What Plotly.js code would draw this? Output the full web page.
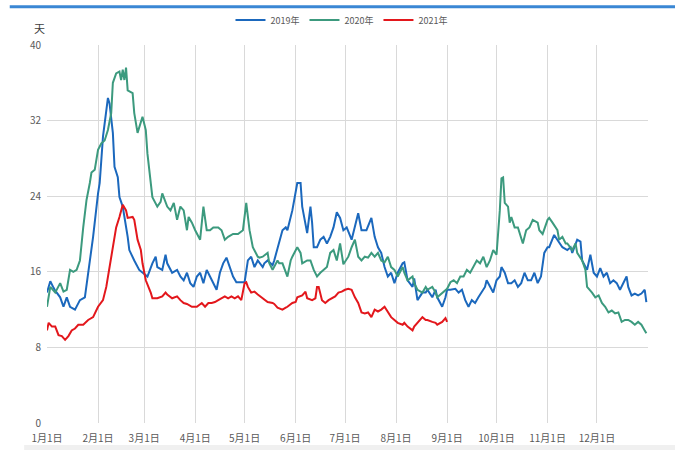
<!DOCTYPE html>
<html>
<head>
<meta charset="utf-8">
<script src="https://cdn.plot.ly/plotly-3.0.1.min.js"></script>
<style>
html,body{margin:0;padding:0;background:#fff;}
#chart{width:675px;height:450px;}
</style>
</head>
<body>
<div id="chart"></div>
<script>
// Day-of-year (0 = 1月1日) and values (天)
const days2019 = [0,2,4,5,8,10,12,14,17,20,23,26,28,31,32,34,37,38,40,41,43,44,46,49,50,53,56,61,64,66,67,70,72,73,76,79,81,83,85,87,89,91,93,95,97,99,101,103,105,107,109,111,113,115,117,120,122,124,126,128,131,132,134,137,138,140,143,145,146,149,151,152,154,155,158,160,161,162,164,166,168,170,172,174,176,178,180,182,185,187,189,191,194,197,199,201,203,205,207,209,211,213,216,217,219,222,223,225,228,230,231,234,236,237,240,242,243,245,248,250,252,254,256,258,260,262,264,266,267,269,271,273,275,276,278,280,282,284,286,288,290,292,294,296,298,300,302,304,305,308,310,313,316,318,319,322,324,325,328,330,332,334,336,338,340,342,344,346,348,350,352,353,355,357,359,361,363,364];
const vals2019 = [13.8,15.0,14.3,14.0,13.3,12.3,13.3,12.3,12.0,13.0,13.3,16.9,19.7,24.3,25.4,30.3,34.4,33.8,30.7,27.1,26.0,23.9,22.9,19.7,18.3,17.2,16.2,15.5,16.9,17.6,16.5,16.2,17.8,16.9,15.9,16.2,15.5,15.1,15.9,14.8,14.4,15.5,15.9,14.8,16.2,15.5,14.8,14.1,15.9,16.9,17.5,16.5,15.5,14.9,14.9,14.9,17.2,17.6,16.5,17.2,16.5,16.9,17.2,16.7,17.2,18.6,20.4,20.7,20.4,22.5,24.3,25.4,25.4,22.9,20.1,22.9,21.2,18.6,18.6,19.4,19.7,19.0,19.7,20.7,22.3,21.7,20.4,20.7,19.4,20.7,22.2,20.4,20.4,21.7,19.7,18.6,18.0,16.5,15.5,15.9,14.8,15.9,16.9,17.0,15.1,14.4,15.3,13.0,13.8,13.8,14.1,13.3,14.1,13.3,12.3,13.3,14.1,14.1,14.2,13.8,14.1,13.0,12.3,13.0,12.7,13.3,13.8,14.4,15.1,14.4,13.8,15.1,15.5,16.5,15.9,14.8,14.8,15.1,14.4,14.8,15.9,15.1,15.1,15.9,14.8,15.5,18.0,18.6,18.6,19.9,19.4,18.6,18.3,18.6,18.0,19.4,19.2,17.2,16.2,17.8,15.9,15.5,16.4,15.5,15.9,14.8,15.1,14.8,14.1,14.8,15.5,14.4,13.5,13.7,13.5,13.7,14.1,12.8];

const days2020 = [0,2,5,8,10,12,14,16,18,20,22,24,26,27,29,31,33,35,37,39,40,42,44,45,46,47,48,49,52,53,55,58,60,61,64,67,69,70,73,75,77,79,81,83,85,86,88,90,93,95,97,99,101,104,106,108,110,113,116,119,121,123,125,128,129,131,134,135,137,140,141,143,146,148,149,152,154,155,158,160,162,164,166,168,170,172,174,176,178,180,183,185,187,189,191,193,195,197,199,201,203,205,207,209,211,213,216,217,219,222,223,225,228,230,231,234,236,237,240,242,243,245,247,249,251,253,255,257,259,261,263,265,267,269,271,273,275,276,277,278,280,281,282,284,286,288,289,291,293,295,298,299,301,304,305,307,310,311,313,315,316,319,321,322,325,327,328,331,333,335,337,339,341,343,345,347,349,351,353,355,357,359,361,363,364];
const vals2020 = [12.3,14.4,13.8,14.8,13.9,14.1,16.2,16.0,16.2,17.2,20.7,23.6,25.4,26.5,26.8,28.9,29.6,29.9,31.0,32.8,36.0,37.0,37.2,36.3,37.4,36.3,37.6,35.2,34.9,32.8,30.7,32.4,31.0,28.5,23.9,22.9,23.4,24.3,22.9,22.5,23.3,21.5,22.9,22.5,20.4,21.8,21.2,20.4,19.4,22.9,20.4,20.4,20.7,20.7,20.4,19.4,19.7,20.0,20.0,20.4,23.3,20.4,18.6,17.6,17.5,17.6,18.0,16.9,16.2,17.2,16.9,16.9,15.5,17.2,17.6,18.6,18.0,16.9,17.2,17.2,16.2,15.5,15.9,16.2,16.5,18.0,18.3,17.2,19.0,16.8,17.6,18.6,19.4,17.6,17.2,17.6,17.5,18.0,17.6,18.0,17.2,17.0,17.6,16.5,16.2,15.5,16.5,15.9,15.1,15.5,14.8,14.1,13.8,14.4,14.1,14.4,13.8,13.3,13.8,14.1,14.2,14.9,15.1,14.8,15.5,15.5,16.2,15.9,16.5,17.2,16.9,17.6,16.5,17.2,18.3,17.8,22.5,25.9,26.0,23.3,22.9,21.2,21.8,20.7,20.7,19.7,19.0,20.4,20.7,21.5,21.2,20.4,20.0,21.5,21.7,21.2,20.4,19.4,19.7,19.0,19.0,18.3,19.0,18.0,17.2,16.2,14.4,13.8,13.3,13.5,12.7,12.3,11.7,11.9,11.6,11.7,10.7,10.9,10.9,10.7,10.4,10.7,10.4,9.8,9.5];

const days2021 = [0,1,3,5,7,9,11,13,15,17,19,22,25,28,31,34,36,38,40,42,44,46,48,49,52,53,55,57,58,60,63,64,67,70,72,73,76,79,81,83,85,88,91,94,96,98,100,102,104,106,108,110,112,114,116,118,120,121,122,124,126,128,131,132,134,137,138,140,143,145,146,149,151,152,155,157,158,161,163,164,165,167,169,171,173,175,177,179,181,183,185,187,189,191,193,195,197,199,201,203,205,207,209,211,213,216,217,219,222,223,225,228,230,231,234,236,237,240,242,243];
const vals2021 = [9.8,10.6,10.2,10.2,9.3,9.2,8.8,9.2,9.8,10.0,10.4,10.4,10.9,11.2,12.3,13.0,14.4,16.5,19.0,20.7,21.8,23.1,22.5,21.7,21.8,21.5,19.4,18.3,16.9,15.1,13.8,13.2,13.2,13.4,13.8,13.6,13.2,13.4,13.0,12.7,12.6,12.3,12.3,12.7,12.3,12.7,12.7,12.8,13.0,13.2,13.4,13.2,13.4,13.2,13.4,13.0,14.8,14.9,14.4,13.8,13.9,13.6,13.2,13.0,12.8,12.7,12.6,12.2,12.0,12.2,12.3,12.7,12.8,13.3,13.5,13.9,13.2,13.0,13.2,14.4,14.4,13.0,12.7,13.0,13.2,13.4,13.8,13.9,14.1,14.2,14.1,13.3,12.7,11.7,11.6,11.7,11.2,12.0,11.8,12.0,12.3,11.8,11.2,10.9,10.6,10.4,10.6,10.2,9.8,10.2,10.6,11.2,10.9,10.9,10.7,10.6,10.4,10.7,11.1,10.7];

const seriesNames = ['2019年','2020年','2021年'];
const tickDays = [0,31,59,90,120,151,181,212,243,273,304,334,365];
const tickLabels = ['1月1日','2月1日','3月1日','4月1日','5月1日','6月1日','7月1日','8月1日','9月1日','10月1日','11月1日','12月1日',''];
const yTicks = [0,8,16,24,32,40];

const colors = ['#1b68bd','#3c9a7e','#e3171c'];
const font = '"Noto Sans CJK SC", "Noto Sans", sans-serif';

const traces = [
  {x: days2019, y: vals2019, name: seriesNames[0]},
  {x: days2020, y: vals2020, name: seriesNames[1]},
  {x: days2021, y: vals2021, name: seriesNames[2]}
].map((t,i)=>Object.assign(t,{type:'scatter',mode:'lines',line:{color:colors[i],width:2}}));

const layout = {
  width:675, height:450,
  margin:{l:47,r:27,t:45,b:27,autoexpand:false},
  paper_bgcolor:'#fff', plot_bgcolor:'#fff',
  font:{family:font,color:'#595959',size:10},
  showlegend:true,
  legend:{orientation:'h',x:0.49,xanchor:'center',y:1.066,yanchor:'middle',
          bgcolor:'rgba(0,0,0,0)',font:{size:9,color:'#595959'},itemwidth:30,
          tracegroupgap:0},
  xaxis:{range:[0,365],tickmode:'array',tickvals:tickDays,ticktext:tickLabels,
         showgrid:true,gridcolor:'#d9d9d9',gridwidth:1,zeroline:false,showline:false,
         ticks:'',ticklabelstandoff:8,tickfont:{size:10,color:'#595959'},fixedrange:true},
  yaxis:{range:[0,40],tickmode:'array',tickvals:yTicks,showgrid:true,gridcolor:'#d9d9d9',
         gridwidth:1,zeroline:false,showline:false,ticks:'',ticklabelstandoff:5,
         tickfont:{size:10,color:'#595959'},fixedrange:true},
  annotations:[{xref:'paper',yref:'paper',x:-0.012,y:1.045,text:'天',showarrow:false,
                xanchor:'center',yanchor:'middle',font:{size:11,color:'#404040'}}],
  shapes:[
    {type:'line',xref:'paper',yref:'paper',x0:-0.062,x1:1.045,y0:1.101,y1:1.101,
     line:{color:'#3a87d4',width:3}},
    {type:'rect',xref:'paper',yref:'paper',x0:-0.038,x1:1.045,y0:-0.0714,y1:-0.058,
     fillcolor:'#f0f0f0',line:{width:0}}
  ]
};

Plotly.newPlot('chart', traces, layout, {displayModeBar:false,staticPlot:true});
</script>
</body>
</html>
